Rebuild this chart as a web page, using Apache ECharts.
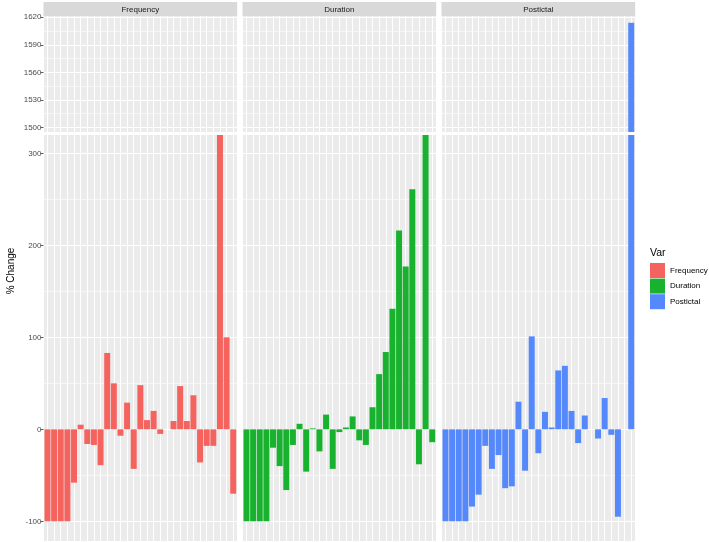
<!DOCTYPE html>
<html><head><meta charset="utf-8">
<script src="https://cdn.jsdelivr.net/npm/echarts@6/dist/echarts.min.js"></script>
<style>html,body{margin:0;padding:0;background:#fff}#c{width:709px;height:542px}</style>
</head><body><div id="c"></div>
<script>
// ---- data ----
const facets = ['Frequency', 'Duration', 'Postictal'];
const frequency = [-100,-100,-100,-100,-58,5,-16,-17,-39,83,50,-7,29,-43,48,10,20,-5,0,9,47,9,37,-36,-18,-18,340,100,-70];
const duration  = [-100,-100,-100,-100,-20,-40,-66,-17,6,-46,1,-24,16,-43,-3,2,14,-12,-17,24,60,84,131,216,177,261,-38,350,-14];
const postictal = [-100,-100,-100,-100,-84,-71,-18,-43,-28,-64,-62,30,-45,101,-26,19,2,64,69,20,-15,15,0,-10,34,-6,-95,0,1614];
const lowerTicks = [-100, 0, 100, 200, 300];
const upperTicks = [1500, 1530, 1560, 1590, 1620];
const seriesValues = [frequency, duration, postictal];
const colors = ['#F5635F', '#19B22E', '#5589FB'];

// ---- layout ----
const FONT = 'Liberation Sans, Arial, sans-serif';
const panelLeft = [43.5, 242.5, 441.5];
const panelW = 193.7;
const strip = {top: 2, h: 14};
const upper = {top: 16, h: 116, min: 1494.9, max: 1621.4, step: 30, split: 4, ticks: upperTicks};
const lower = {top: 135, h: 406, min: -121.4, max: 319.9, step: 100, split: 5, ticks: lowerTicks};
const rows = [upper, lower];

const grid = [], xAxis = [], yAxis = [], series = [], graphic = [];
facets.forEach((name, f) => {
  rows.forEach((r, ri) => {
    const gi = f * 2 + ri;
    grid.push({left: panelLeft[f], top: r.top, width: panelW, height: r.h,
      show: true, backgroundColor: '#EBEBEB', borderWidth: 0});
    xAxis.push({type: 'value', gridIndex: gi, min: 0.4, max: seriesValues[f].length + 0.6,
      splitNumber: 29, minInterval: 1, maxInterval: 1,
      axisLabel: {show: false}, axisTick: {show: false}, axisLine: {show: false},
      splitLine: {show: true, lineStyle: {color: '#FFFFFF', width: 1}}});
    yAxis.push({type: 'value', gridIndex: gi, min: r.min, max: r.max,
      splitNumber: r.split, minInterval: r.step, maxInterval: r.step,
      axisLine: {show: false},
      axisTick: {show: f === 0, length: 3, customValues: r.ticks, lineStyle: {color: '#333333', width: 0.8}},
      axisLabel: {show: f === 0, customValues: r.ticks, formatter: v => String(v),
        color: '#4D4D4D', fontSize: 8, margin: 2, fontFamily: FONT},
      splitLine: {show: true, lineStyle: {color: '#FFFFFF', width: 1.1}},
      minorTick: {show: false, splitNumber: 2},
      minorSplitLine: {show: true, lineStyle: {color: '#FFFFFF', width: 0.55}}});
    series.push({type: 'bar', name: name, xAxisIndex: gi, yAxisIndex: gi,
      data: seriesValues[f].map((v, i) => [i + 1, v]),
      barWidth: '90%', clip: true, silent: true,
      itemStyle: {color: colors[f]}});
  });
  graphic.push({type: 'rect', shape: {x: panelLeft[f], y: strip.top, width: panelW, height: strip.h},
    style: {fill: '#D9D9D9'}, silent: true});
  graphic.push({type: 'text', x: panelLeft[f] + panelW / 2, y: strip.top + strip.h / 2 + 0.5,
    style: {text: name, fill: '#1A1A1A', fontSize: 8, fontFamily: FONT, align: 'center', verticalAlign: 'middle'}, silent: true});
});
graphic.push({type: 'text', x: 11, y: 271, rotation: Math.PI / 2,
  style: {text: '% Change', fill: '#000000', fontSize: 10, fontFamily: FONT, align: 'center', verticalAlign: 'middle'}});
graphic.push({type: 'text', x: 650, y: 253,
  style: {text: 'Var', fill: '#000000', fontSize: 10.5, fontFamily: FONT, align: 'left', verticalAlign: 'middle'}});

const chart = echarts.init(document.getElementById('c'), null, {renderer: 'canvas'});
chart.setOption({
  animation: false,
  backgroundColor: '#FFFFFF',
  textStyle: {fontFamily: FONT},
  grid, xAxis, yAxis, series, graphic,
  legend: {data: facets, orient: 'vertical', left: 650, top: 263, padding: 0,
    itemWidth: 15, itemHeight: 15, itemGap: 0.6, icon: 'rect', selectedMode: false,
    textStyle: {fontSize: 8, color: '#000000', fontFamily: FONT}}
});
</script></body></html>
